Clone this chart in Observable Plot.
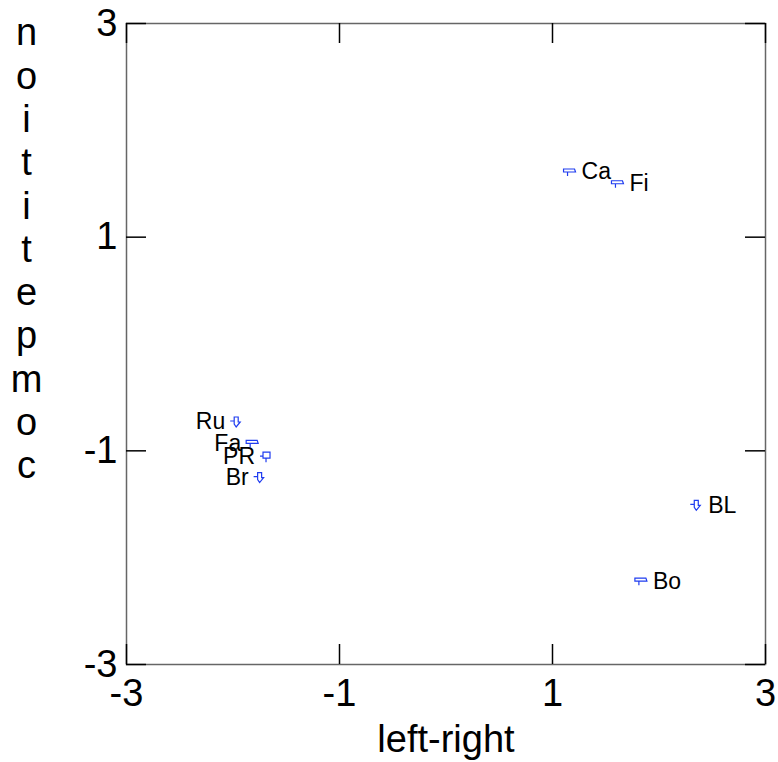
<!DOCTYPE html>
<html>
<head>
<meta charset="utf-8">
<script src="https://cdn.jsdelivr.net/npm/d3@7"></script>
<script src="https://cdn.jsdelivr.net/npm/@observablehq/plot@0.6"></script>
<style>
  html, body { margin: 0; padding: 0; background: #fff; }
  #chart svg { display: block; }
</style>
</head>
<body>
<div id="chart"></div>
<script>
// ---- data ----
const names = ["Ru", "Fa", "PR", "Br", "Ca", "Fi", "BL", "Bo"];
const leftRight = [-1.97, -1.82, -1.69, -1.75, 1.16, 1.61, 2.35, 1.83];
const competition = [-0.73, -0.93, -1.05, -1.25, 1.61, 1.50, -1.51, -2.22];
const xTicks = [-3, -1, 1, 3];
const yTicks = [-3, -1, 1, 3];
const xLabel = "left-right";
const yLabel = "noititepmoc";

const points = names.map((n, i) => ({name: n, x: leftRight[i], y: competition[i]}));

// ---- custom glyph symbols ----
const flag = {draw(ctx, size) {
  ctx.moveTo(-6, -3); ctx.lineTo(5, -3); ctx.lineTo(6, 0); ctx.lineTo(-6, 0); ctx.closePath();
  ctx.moveTo(-2, 0); ctx.lineTo(-2, 4);
}};
const arrow = {draw(ctx, size) {
  ctx.moveTo(-6, -1); ctx.lineTo(-2, -1);
  ctx.moveTo(-2, -5); ctx.lineTo(2, -5); ctx.lineTo(2, 0); ctx.lineTo(4, 0); ctx.lineTo(0, 5); ctx.lineTo(-2, 2); ctx.closePath();
}};
const box = {draw(ctx, size) {
  ctx.moveTo(-6, 0); ctx.lineTo(-3, 0);
  ctx.moveTo(-3, -4); ctx.lineTo(4, -4); ctx.lineTo(4, 2); ctx.lineTo(-3, 2); ctx.closePath();
  ctx.moveTo(0, 2); ctx.lineTo(0, 6);
}};
const glyphOf = {Ru: arrow, Br: arrow, BL: arrow, PR: box, Fa: flag, Ca: flag, Fi: flag, Bo: flag};

const FONT = "'Liberation Sans', Arial, Helvetica, sans-serif";
const blue = "#1f3cf0";

const dotMarks = [arrow, flag, box].map(g =>
  Plot.dot(points.filter(d => glyphOf[d.name] === g), {x: "x", y: "y", symbol: g, r: 5, stroke: blue, strokeWidth: 1.2, fill: "none"})
);

const fmt = d => String(d).replace("\u2212", "-");

const chart = Plot.plot({
  width: 778,
  height: 762,
  marginLeft: 126,
  marginRight: 13,
  marginTop: 23,
  marginBottom: 98,
  style: {fontFamily: FONT, background: "#fff", color: "#000"},
  x: {domain: [-3, 3]},
  y: {domain: [-3, 3]},
  marks: [
    Plot.frame({stroke: "#666", strokeWidth: 1.5}),
    // inward ticks on all four sides
    Plot.ruleX(xTicks, {x: d => d, insetTop: 621, stroke: "#000", strokeWidth: 1.5}),
    Plot.ruleX(xTicks, {x: d => d, insetBottom: 621, stroke: "#000", strokeWidth: 1.5}),
    Plot.ruleY(yTicks, {y: d => d, insetRight: 619, stroke: "#000", strokeWidth: 1.5}),
    Plot.ruleY(yTicks, {y: d => d, insetLeft: 619, stroke: "#000", strokeWidth: 1.5}),
    Plot.axisX({ticks: xTicks, tickSize: 0, tickPadding: 15, fontSize: 38, label: null, tickFormat: fmt}),
    Plot.axisY({ticks: yTicks, tickSize: 0, tickPadding: 9, fontSize: 38, label: null, tickFormat: fmt}),
    Plot.text([xLabel], {frameAnchor: "bottom", dy: 87, fontSize: 38, text: d => d, fill: "#000"}),
    Plot.text([yLabel.split("").join("\n")], {frameAnchor: "top-left", dx: -100, dy: -9, lineAnchor: "top", lineHeight: 1.14, fontSize: 38, textAnchor: "middle", text: d => d, fill: "#000"}),
    ...dotMarks,
    Plot.text(points.filter(d => d.x < 0), {x: "x", y: "y", text: "name", fontSize: 23, fill: "#000", textAnchor: "end", dx: -11}),
    Plot.text(points.filter(d => d.x >= 0), {x: "x", y: "y", text: "name", fontSize: 23, fill: "#000", textAnchor: "start", dx: 12}),
  ]
});
document.getElementById("chart").appendChild(chart);
</script>
</body>
</html>
